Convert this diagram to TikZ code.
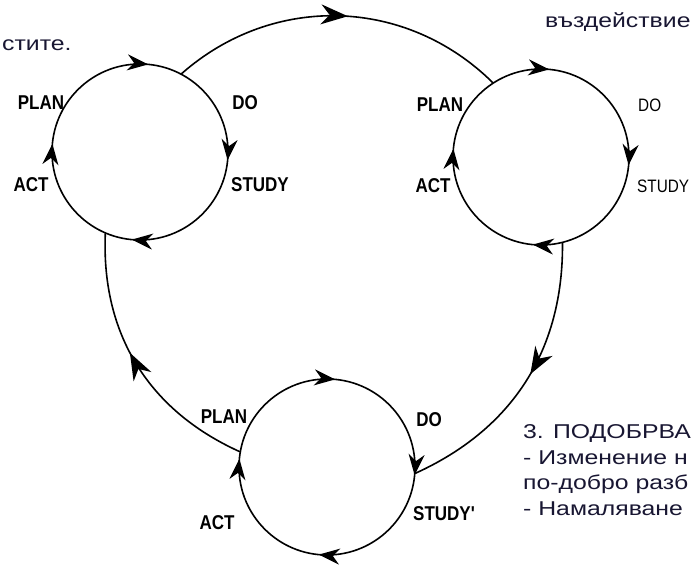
\documentclass[tikz,border=0pt]{standalone}
\usepackage{fontspec}
\setmainfont{Liberation Sans}
\newfontfamily\lblfont[FakeStretch=0.85]{Liberation Sans}
\newfontfamily\txtfont[FakeStretch=1.24]{Liberation Sans}
\usetikzlibrary{arrows.meta,decorations.markings}
\definecolor{txtcol}{RGB}{24,22,50}

\begin{document}
\begin{tikzpicture}[x=1pt,y=1pt,line join=round,line cap=round,
  >={Stealth[length=21pt,width=16pt]},
  cyc/.style={circle,draw,line width=1.6pt,minimum size=176pt,inner sep=0pt,
    postaction={decorate},
    decoration={markings,
      mark=at position 0.235 with {\arrowreversed{>}},
      mark=at position 0.485 with {\arrowreversed{>}},
      mark=at position 0.735 with {\arrowreversed{>}},
      mark=at position 0.985 with {\arrowreversed{>}}}},
  link/.style={line width=1.6pt,postaction={decorate},
    decoration={markings,
      mark=at position #1 with {\arrow{Stealth[length=27pt,width=20pt]}}}},
  lbl/.style={font=\lblfont\bfseries\fontsize{20}{21}\selectfont,inner sep=0pt},
  lbllight/.style={font=\lblfont\fontsize{18}{19}\selectfont,inner sep=0pt},
  txt/.style={font=\txtfont\fontsize{20}{25.5}\selectfont,text=txtcol,
    inner sep=0pt,align=left}]
  \useasboundingbox (0,0) rectangle (692,567);
  % the three small cycles
  \node[cyc] (c1) at (140,415) {};
  \node[cyc] (c2) at (541,410) {};
  \node[cyc] (c3) at (327,100) {};
  % big cycle between them
  \draw[link=0.526] (c1.62) to[bend left=43] (c2.123);
  \draw[link=0.47] (c2.-76) to[bend left=33] (c3.-4);
  \draw[link=0.55] (c3.170) to[bend left=34] (c1.247);
  % labels
  \node[lbl] (plan1) at (41,464) {PLAN};
  \node[lbl] (do1) at (245,464) {DO};
  \node[lbl] (study1) at (260,382) {STUDY};
  \node[lbl] (act1) at (31,382) {ACT};
  \node[lbl] (plan2) at (440,462) {PLAN};
  \node[lbllight,anchor=west] (do2) at (638,462) {DO};
  \node[lbllight,anchor=west] (study2) at (637,381) {STUDY};
  \node[lbl] (act2) at (433,381) {ACT};
  \node[lbl] (plan3) at (224,150) {PLAN};
  \node[lbl] (do3) at (429,147) {DO};
  \node[lbl,anchor=west] (study3) at (413,53) {STUDY'};
  \node[lbl] (act3) at (217,44) {ACT};
  % text around
  \node[txt,anchor=base west] (top) at (545,539) {въздействие};
  \node[txt,anchor=base west] (left) at (2,516) {стите.};
  \node[txt,anchor=base west] (step3) at (523,52) {3. ПОДОБРВА\\- Изменение н\\по-добро разб\\- Намаляване};
\end{tikzpicture}
\end{document}
